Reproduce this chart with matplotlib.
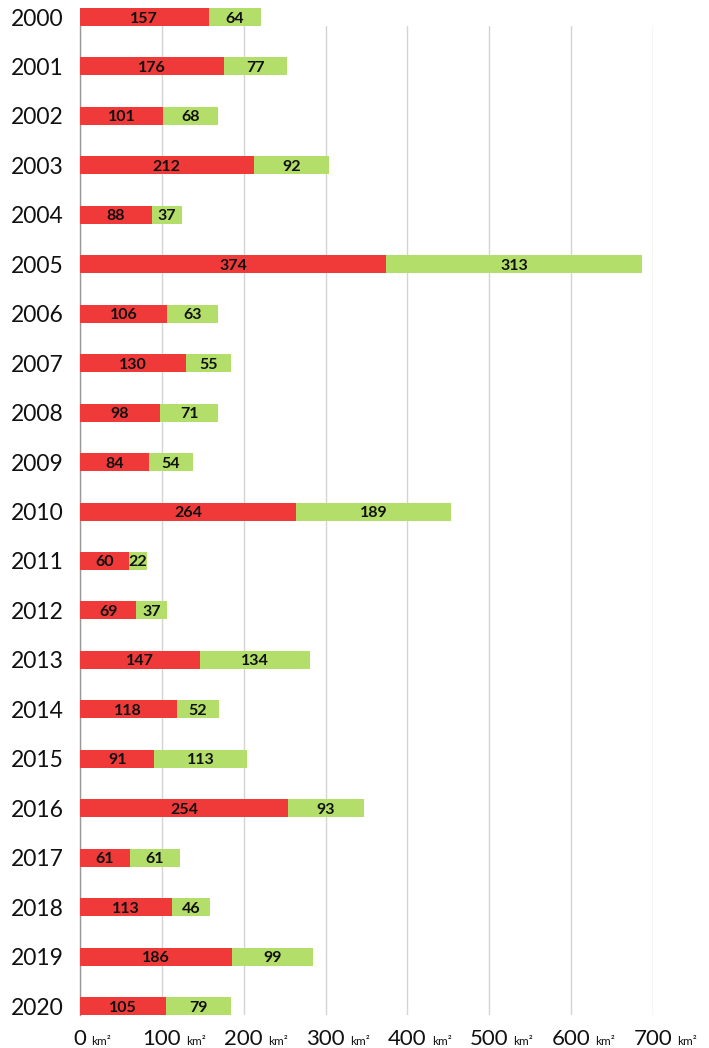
import numpy as np
import matplotlib
matplotlib.use("Agg")
import matplotlib.pyplot as plt
import matplotlib.transforms as mtransforms

# Data
years = [str(y) for y in range(2000, 2021)]
red_values = [157, 176, 101, 212, 88, 374, 106, 130, 98, 84, 264,
              60, 69, 147, 118, 91, 254, 61, 113, 186, 105]
green_values = [64, 77, 68, 92, 37, 313, 63, 55, 71, 54, 189,
                22, 37, 134, 52, 113, 93, 61, 46, 99, 79]
x_ticks = [0, 100, 200, 300, 400, 500, 600, 700]
unit_label = "km²"

RED = "#F03A3A"
GREEN = "#B3DE69"

plt.rcParams['font.family'] = ['Lato', 'DejaVu Sans']

W, H = 709, 1048
fig = plt.figure(figsize=(W / 100, H / 100), dpi=100)

# axes spans from bottom of first bar to bottom of last bar (like the reference)
left, right = 80, 653
top, bottom = 26, 1015
ax = fig.add_axes([left / W, 1 - bottom / H, (right - left) / W, (bottom - top) / H])

bar_h = 0.364
pos = np.arange(len(years))
ax.barh(pos, red_values, height=bar_h, color=RED, clip_on=False, zorder=3)
ax.barh(pos, green_values, left=red_values, height=bar_h, color=GREEN,
        clip_on=False, zorder=3)

for i in range(len(years)):
    ax.text(red_values[i] / 2, pos[i], str(red_values[i]), ha="center",
            va="center_baseline", fontsize=11.5, fontweight="bold",
            color="#111111", zorder=4, clip_on=False)
    ax.text(red_values[i] + green_values[i] / 2, pos[i], str(green_values[i]),
            ha="center", va="center_baseline", fontsize=11.5, fontweight="bold",
            color="#111111", zorder=4, clip_on=False)

# year labels drawn by hand: the first one sits above the axes area
ylab_trans = mtransforms.blended_transform_factory(fig.transFigure, ax.transData)
for i, yr in enumerate(years):
    ax.text(64 / W, pos[i], yr, ha="right", va="center_baseline", fontsize=16.5,
            color="#111111", transform=ylab_trans, clip_on=False)

ax.set_yticks([])
ax.set_xticks(x_ticks)
ax.set_xticklabels([])
ax.tick_params(axis="x", length=0)
ax.grid(axis="x", color="#d4d4d4", linewidth=1, zorder=0)

ax.set_xlim(0, 700)
ax.set_ylim(len(years) - 1 + bar_h / 2, bar_h / 2)

for side in ["top", "right", "bottom"]:
    ax.spines[side].set_visible(False)
ax.spines["left"].set_color("#999999")
ax.spines["left"].set_linewidth(1)

# x tick labels: big number plus small unit
trans = mtransforms.blended_transform_factory(ax.transData, fig.transFigure)
fig.canvas.draw()
renderer = fig.canvas.get_renderer()
base_y = 1 - 1045 / H
for t in x_ticks:
    num = fig.text(t, base_y, str(t), fontsize=16, color="#111111", ha="center",
                   va="baseline", transform=trans)
    bb = num.get_window_extent(renderer)
    fig.text((bb.x1 + 5) / W, base_y, unit_label, fontsize=8.5, color="#111111",
             ha="left", va="baseline")

fig.savefig("out.png", dpi=100)
